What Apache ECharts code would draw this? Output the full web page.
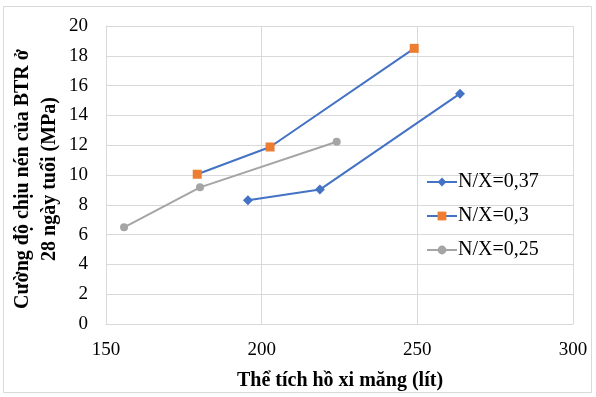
<!DOCTYPE html>
<html>
<head>
<meta charset="utf-8">
<script src="https://cdn.jsdelivr.net/npm/echarts@6/dist/echarts.min.js"></script>
<style>html,body{margin:0;padding:0;background:#fff}#c{width:596px;height:397px}</style>
</head>
<body>
<div id="c"></div>
<script>
var seriesNames = ['N/X=0,37', 'N/X=0,3', 'N/X=0,25'];
var s037 = [[195.6, 8.3], [218.7, 9.02], [263.7, 15.46]];
var s03 = [[179.3, 10.05], [202.7, 11.88], [249, 18.5]];
var s025 = [[155.8, 6.49], [180.2, 9.17], [224.1, 12.23]];
var xTitle = 'Thể tích hồ xi măng (lít)';
var yTitle = 'Cường độ chịu nén của BTR ở\n28 ngày tuổi (MPa)';

var font = 'Liberation Serif, Times New Roman, serif';
var chart = echarts.init(document.getElementById('c'), null, {renderer: 'canvas'});
chart.setOption({
  backgroundColor: '#fff',
  animation: false,
  textStyle: {fontFamily: font},
  grid: {left: 106, right: 23, top: 26, bottom: 73, containLabel: false},
  xAxis: {
    type: 'value', min: 150, max: 300, interval: 50,
    axisLine: {show: true, lineStyle: {color: '#d9d9d9', width: 1}},
    axisTick: {show: false},
    splitLine: {show: true, lineStyle: {color: '#d9d9d9', width: 1}},
    axisLabel: {color: '#000', fontSize: 19, fontFamily: font, margin: 17}
  },
  yAxis: {
    type: 'value', min: 0, max: 20, interval: 2,
    axisLine: {show: true, lineStyle: {color: '#d9d9d9', width: 1}},
    axisTick: {show: false},
    splitLine: {show: true, lineStyle: {color: '#d9d9d9', width: 1}},
    axisLabel: {color: '#000', fontSize: 19, fontFamily: font, margin: 18}
  },
  legend: {
    orient: 'vertical', left: 421, top: 167, itemGap: 14,
    itemWidth: 30, itemHeight: 11,
    textStyle: {fontSize: 20, fontFamily: font, color: '#000', padding: [0,0,0,-4]},
    data: seriesNames
  },
  graphic: [
    {type: 'rect', shape: {x: 3.5, y: 6.5, width: 588, height: 386}, style: {fill: 'none', stroke: '#d9d9d9', lineWidth: 1}, z: -10},
    {type: 'text', x: 340, y: 381, style: {text: xTitle, font: 'bold 20px ' + font, fill: '#000', textAlign: 'center', textVerticalAlign: 'middle'}},
    {type: 'text', x: 36, y: 179, rotation: Math.PI / 2, style: {text: yTitle, font: 'bold 20px ' + font, fill: '#000', textAlign: 'center', textVerticalAlign: 'middle', lineHeight: 27}}
  ],
  series: [
    {name: seriesNames[0], type: 'line', data: s037, symbol: 'diamond', symbolSize: 10,
      lineStyle: {color: '#4472C4', width: 2}, itemStyle: {color: '#4472C4'}},
    {name: seriesNames[1], type: 'line', data: s03, symbol: 'rect', symbolSize: 9,
      lineStyle: {color: '#4472C4', width: 2}, itemStyle: {color: '#ED7D31'}},
    {name: seriesNames[2], type: 'line', data: s025, symbol: 'circle', symbolSize: 8,
      lineStyle: {color: '#A5A5A5', width: 2}, itemStyle: {color: '#A5A5A5'}}
  ]
});
</script>
</body>
</html>
